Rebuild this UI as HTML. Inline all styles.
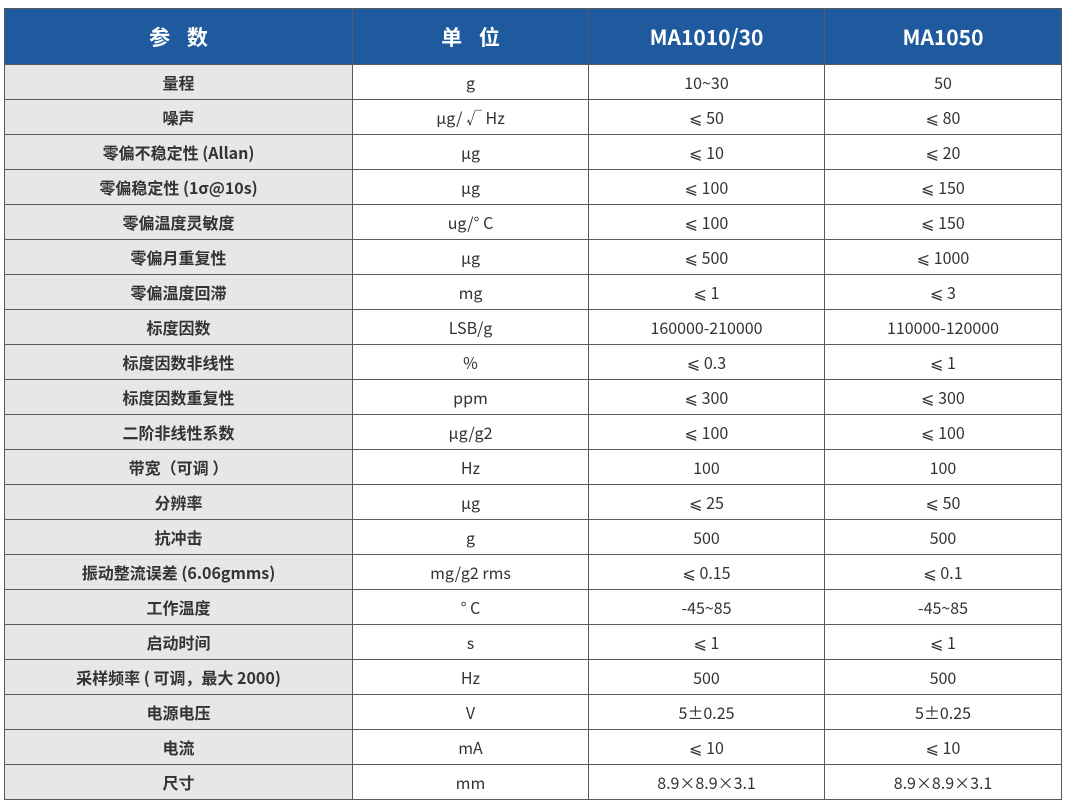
<!DOCTYPE html>
<html><head><meta charset="utf-8"><style>
body{margin:0;background:#fff;width:1065px;height:808px;overflow:hidden;font-family:"Noto Sans CJK SC","DejaVu Sans",sans-serif;}
table{position:absolute;left:4px;top:8px;border-collapse:collapse;table-layout:fixed;width:1057px;}
td,th{border:1.5px solid #5a5a5a;text-align:center;padding:0;color:#333;font-size:16px;line-height:20px;}
th{background:#1f5a9e;color:#fff;height:55px;font-size:21px;font-weight:bold;}
th.sp{letter-spacing:6px;text-indent:6px;}
td{height:34px;}
td:first-child{background:#e6e7e9;font-weight:bold;}
</style></head><body>
<table>
<colgroup><col style="width:348px"><col style="width:236px"><col style="width:236px"><col style="width:237px"></colgroup>
<tr><th class="sp">参 数</th><th class="sp">单 位</th><th>MA1010/30</th><th>MA1050</th></tr>
<tr><td>量程</td><td>g</td><td>10~30</td><td>50</td></tr>
<tr><td>噪声</td><td>μg/ √ Hz</td><td>⩽ 50</td><td>⩽ 80</td></tr>
<tr><td>零偏不稳定性 (Allan)</td><td>μg</td><td>⩽ 10</td><td>⩽ 20</td></tr>
<tr><td>零偏稳定性 (1σ@10s)</td><td>μg</td><td>⩽ 100</td><td>⩽ 150</td></tr>
<tr><td>零偏温度灵敏度</td><td>ug/° C</td><td>⩽ 100</td><td>⩽ 150</td></tr>
<tr><td>零偏月重复性</td><td>μg</td><td>⩽ 500</td><td>⩽ 1000</td></tr>
<tr><td>零偏温度回滞</td><td>mg</td><td>⩽ 1</td><td>⩽ 3</td></tr>
<tr><td>标度因数</td><td>LSB/g</td><td>160000-210000</td><td>110000-120000</td></tr>
<tr><td>标度因数非线性</td><td>%</td><td>⩽ 0.3</td><td>⩽ 1</td></tr>
<tr><td>标度因数重复性</td><td>ppm</td><td>⩽ 300</td><td>⩽ 300</td></tr>
<tr><td>二阶非线性系数</td><td>μg/g2</td><td>⩽ 100</td><td>⩽ 100</td></tr>
<tr><td>带宽（可调 ）</td><td>Hz</td><td>100</td><td>100</td></tr>
<tr><td>分辨率</td><td>μg</td><td>⩽ 25</td><td>⩽ 50</td></tr>
<tr><td>抗冲击</td><td>g</td><td>500</td><td>500</td></tr>
<tr><td>振动整流误差 (6.06gmms)</td><td>mg/g2 rms</td><td>⩽ 0.15</td><td>⩽ 0.1</td></tr>
<tr><td>工作温度</td><td>° C</td><td>-45~85</td><td>-45~85</td></tr>
<tr><td>启动时间</td><td>s</td><td>⩽ 1</td><td>⩽ 1</td></tr>
<tr><td>采样频率 ( 可调，最大 2000)</td><td>Hz</td><td>500</td><td>500</td></tr>
<tr><td>电源电压</td><td>V</td><td>5±0.25</td><td>5±0.25</td></tr>
<tr><td>电流</td><td>mA</td><td>⩽ 10</td><td>⩽ 10</td></tr>
<tr><td>尺寸</td><td>mm</td><td>8.9×8.9×3.1</td><td>8.9×8.9×3.1</td></tr>
</table>
</body></html>
